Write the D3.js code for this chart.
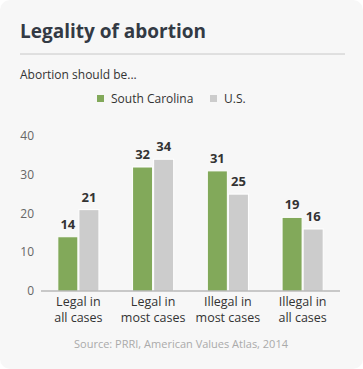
<!DOCTYPE html>
<html>
<head>
<meta charset="utf-8">
<script src="https://cdn.jsdelivr.net/npm/d3@7"></script>
<style>
  body { margin: 0; background: #fff; }
  svg text { font-family: "Open Sans", sans-serif; }
</style>
</head>
<body>
<div id="chart"></div>
<script>
const categories = [["Legal in", "all cases"], ["Legal in", "most cases"], ["Illegal in", "most cases"], ["Illegal in", "all cases"]];
const seriesNames = ["South Carolina", "U.S."];
const southCarolina = [14, 32, 31, 19];
const us = [21, 34, 25, 16];
const yTicks = [0, 10, 20, 30, 40];

const width = 363;
const height = 369;
const colors = ["#82a95a", "#cccccc"];

const svg = d3.select("#chart")
    .append("svg")
    .attr("width", width)
    .attr("height", height);

// Card background
svg.append("rect")
    .attr("x", 0).attr("y", 0)
    .attr("width", width).attr("height", height)
    .attr("rx", 10)
    .style("fill", "#f7f7f7");

// Title
svg.append("text")
    .attr("x", 20).attr("y", 38)
    .style("font-size", "19px")
    .style("font-weight", "bold")
    .style("fill", "#333a44")
    .text("Legality of abortion");

svg.append("line")
    .attr("x1", 20).attr("x2", 345)
    .attr("y1", 54).attr("y2", 54)
    .style("stroke", "#c8c8c8")
    .style("stroke-width", 1);

svg.append("text")
    .attr("x", 20).attr("y", 79)
    .style("font-size", "12px")
    .style("fill", "#333")
    .text("Abortion should be...");

// Legend
const legendItems = [{ name: seriesNames[0], x: 97 }, { name: seriesNames[1], x: 210 }];
const legend = svg.selectAll(".legend")
    .data(legendItems)
    .enter()
    .append("g")
    .attr("class", "legend")
    .attr("transform", d => `translate(${d.x},95)`);
legend.append("rect")
    .attr("width", 7).attr("height", 7)
    .style("fill", (d, i) => colors[i]);
legend.append("text")
    .attr("x", 14).attr("y", 7.5)
    .style("font-size", "12px")
    .style("fill", "#333")
    .text(d => d.name);

// Scales
const x0 = d3.scaleBand()
    .domain(d3.range(categories.length))
    .range([41, 340])
    .paddingInner(0.45)
    .paddingOuter(0.225);

const x1 = d3.scaleBand()
    .domain([0, 1])
    .range([0, x0.bandwidth()])
    .paddingInner(0.05);

const y = d3.scaleLinear()
    .domain([0, 40])
    .range([291, 136]);

// Y axis labels
svg.selectAll(".y-label")
    .data(yTicks)
    .enter()
    .append("text")
    .attr("class", "y-label")
    .attr("x", 34)
    .attr("y", d => y(d))
    .attr("dy", "0.35em")
    .attr("text-anchor", "end")
    .style("font-size", "12px")
    .style("fill", "#666")
    .text(d => d);

// Bars
const data = categories.map((c, i) => [southCarolina[i], us[i]]);
const groups = svg.selectAll(".group")
    .data(data)
    .enter()
    .append("g")
    .attr("class", "group")
    .attr("transform", (d, i) => `translate(${x0(i)},0)`);

groups.selectAll("rect")
    .data(d => d)
    .enter()
    .append("rect")
    .attr("x", (d, i) => x1(i))
    .attr("y", d => y(d))
    .attr("width", x1.bandwidth())
    .attr("height", d => y(0) - y(d))
    .style("fill", (d, i) => colors[i])
    .style("stroke", "#fff")
    .style("stroke-width", 1);

groups.selectAll(".value")
    .data(d => d)
    .enter()
    .append("text")
    .attr("class", "value")
    .attr("x", (d, i) => x1(i) + x1.bandwidth() / 2)
    .attr("y", d => y(d) - 8)
    .attr("text-anchor", "middle")
    .style("font-size", "13px")
    .style("font-weight", "bold")
    .style("fill", "#333")
    .text(d => d);

// X axis line
svg.append("line")
    .attr("x1", 41).attr("x2", 340)
    .attr("y1", y(0)).attr("y2", y(0))
    .style("stroke", "#999")
    .style("stroke-width", 1);

// X labels, one text per line
categories.forEach((lines, i) => {
    lines.forEach((line, j) => {
        svg.append("text")
            .attr("class", "x-label")
            .attr("x", x0(i) + x0.bandwidth() / 2)
            .attr("y", 306 + j * 16)
            .attr("text-anchor", "middle")
            .style("font-size", "12.5px")
            .style("fill", "#333")
            .text(line);
    });
});

// Source
svg.append("text")
    .attr("x", 181).attr("y", 348)
    .attr("text-anchor", "middle")
    .style("font-size", "11px")
    .style("fill", "#aaa")
    .text("Source: PRRI, American Values Atlas, 2014");
</script>
</body>
</html>
